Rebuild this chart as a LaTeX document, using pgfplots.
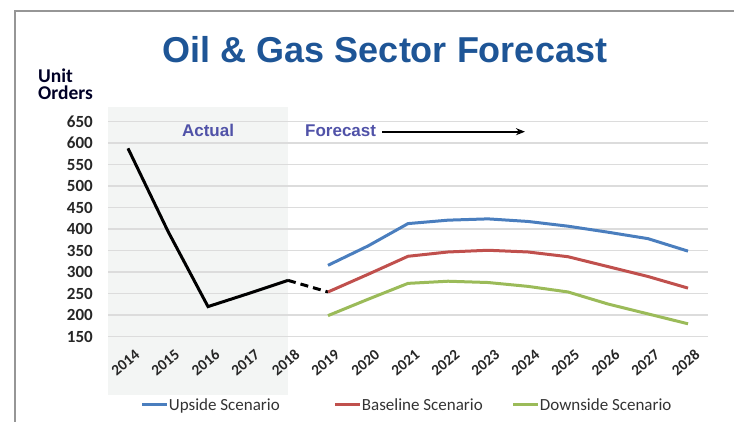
\documentclass[border=0pt]{standalone}
\usepackage{fontspec}
\setmainfont{Carlito}
\newfontfamily\arialf{Liberation Sans}
\usepackage{pgfplots}
\pgfplotsset{compat=1.18}
\usetikzlibrary{arrows.meta}
\definecolor{titleblue}{RGB}{30,85,150}
\definecolor{annot}{RGB}{80,82,168}
\definecolor{upc}{RGB}{74,126,190}
\definecolor{basec}{RGB}{192,80,77}
\definecolor{downc}{RGB}{155,187,89}
\definecolor{shadec}{RGB}{243,245,244}
\definecolor{gridc}{RGB}{220,220,220}
\definecolor{framec}{RGB}{150,150,150}
\begin{document}
\begin{tikzpicture}[x=1pt,y=1pt]
\draw[framec, line width=2pt] (15,-2) -- (15,411) -- (740,411);
\node[anchor=base, font=\arialf\bfseries\fontsize{36}{40}\selectfont, text=titleblue, inner sep=0pt] at (385,359) {Oil \& Gas Sector Forecast};
\node[anchor=base west, font=\bfseries\fontsize{19.5}{20}\selectfont, text=black!85!blue, inner sep=0pt] at (38,339) {Unit};
\node[anchor=base west, font=\bfseries\fontsize{19.5}{20}\selectfont, text=black!85!blue, inner sep=0pt] at (38,322) {Orders};
\begin{axis}[
  at={(108pt,85.3pt)}, anchor=south west, scale only axis,
  width=600pt, height=215pt,
  xmin=2013.5, xmax=2028.5, ymin=150, ymax=650,
  axis line style={draw=none}, major tick length=0pt,
  xtick={2014,2015,2016,2017,2018,2019,2020,2021,2022,2023,2024,2025,2026,2027,2028},
  xticklabels={2014,2015,2016,2017,2018,2019,2020,2021,2022,2023,2024,2025,2026,2027,2028},
  ytick={150,200,250,300,350,400,450,500,550,600,650},
  ymajorgrids, grid style={gridc, line width=1.5pt},
  /pgf/number format/assume math mode=true,
  xticklabel style={rotate=40, anchor=north east, inner sep=0pt, xshift=-3pt, yshift=-13pt, font=\bfseries\fontsize{15.3}{15}\selectfont, text=black!85},
  yticklabel style={anchor=east, inner sep=0pt, xshift=-15pt, font=\bfseries\fontsize{17}{16}\selectfont, text=black!85},
  clip=false, set layers,
  legend columns=3,
  legend style={at={(0.0545,-0.3177)}, anchor=west, draw=none, fill=none, inner sep=0pt,
    font=\fontsize{17}{17}\selectfont, text=black!80,
    /tikz/every even column/.append style={column sep=0pt},
    nodes={inner sep=0pt}},
  legend image code/.code={\draw[#1, line width=3pt] (0pt,0pt) -- (25pt,0pt);},
]
\begin{pgfonlayer}{axis background}
\fill[shadec] (axis cs:2013.5,14.4) rectangle (axis cs:2018,684);
\end{pgfonlayer}
\addplot[black, line width=3pt, forget plot] coordinates {(2014,588) (2015,395) (2016,220) (2017,250) (2018,281)};
\addplot[black, line width=3pt, dash pattern=on 8pt off 5pt, forget plot] coordinates {(2018,281) (2019,254)};
\addplot[upc, line width=3pt] coordinates {(2019,316) (2020,361) (2021,413) (2022,421) (2023,424) (2024,418) (2025,407) (2026,393) (2027,378) (2028,349)};
\addlegendentry{\makebox[165pt][l]{Upside Scenario}}
\addplot[basec, line width=3pt] coordinates {(2019,254) (2020,295) (2021,337) (2022,347) (2023,351) (2024,347) (2025,336) (2026,313) (2027,290) (2028,263)};
\addlegendentry{\makebox[150pt][l]{Baseline Scenario}}
\addplot[downc, line width=3pt] coordinates {(2019,199) (2020,237) (2021,274) (2022,279) (2023,276) (2024,267) (2025,254) (2026,226) (2027,203) (2028,180)};
\addlegendentry{Downside Scenario}
\end{axis}
\node[anchor=base, font=\arialf\bfseries\fontsize{17}{17}\selectfont, text=annot, inner sep=0pt] at (208,285) {Actual};
\node[anchor=base west, font=\arialf\bfseries\fontsize{17}{17}\selectfont, text=annot, inner sep=0pt] at (305,285) {Forecast};
\draw[black, line width=1.8pt, -{Stealth[length=9pt,width=7pt]}] (382,290.3) -- (525,290.3);
\pgfresetboundingbox
\useasboundingbox (0,0) rectangle (734,422);
\end{tikzpicture}
\end{document}
